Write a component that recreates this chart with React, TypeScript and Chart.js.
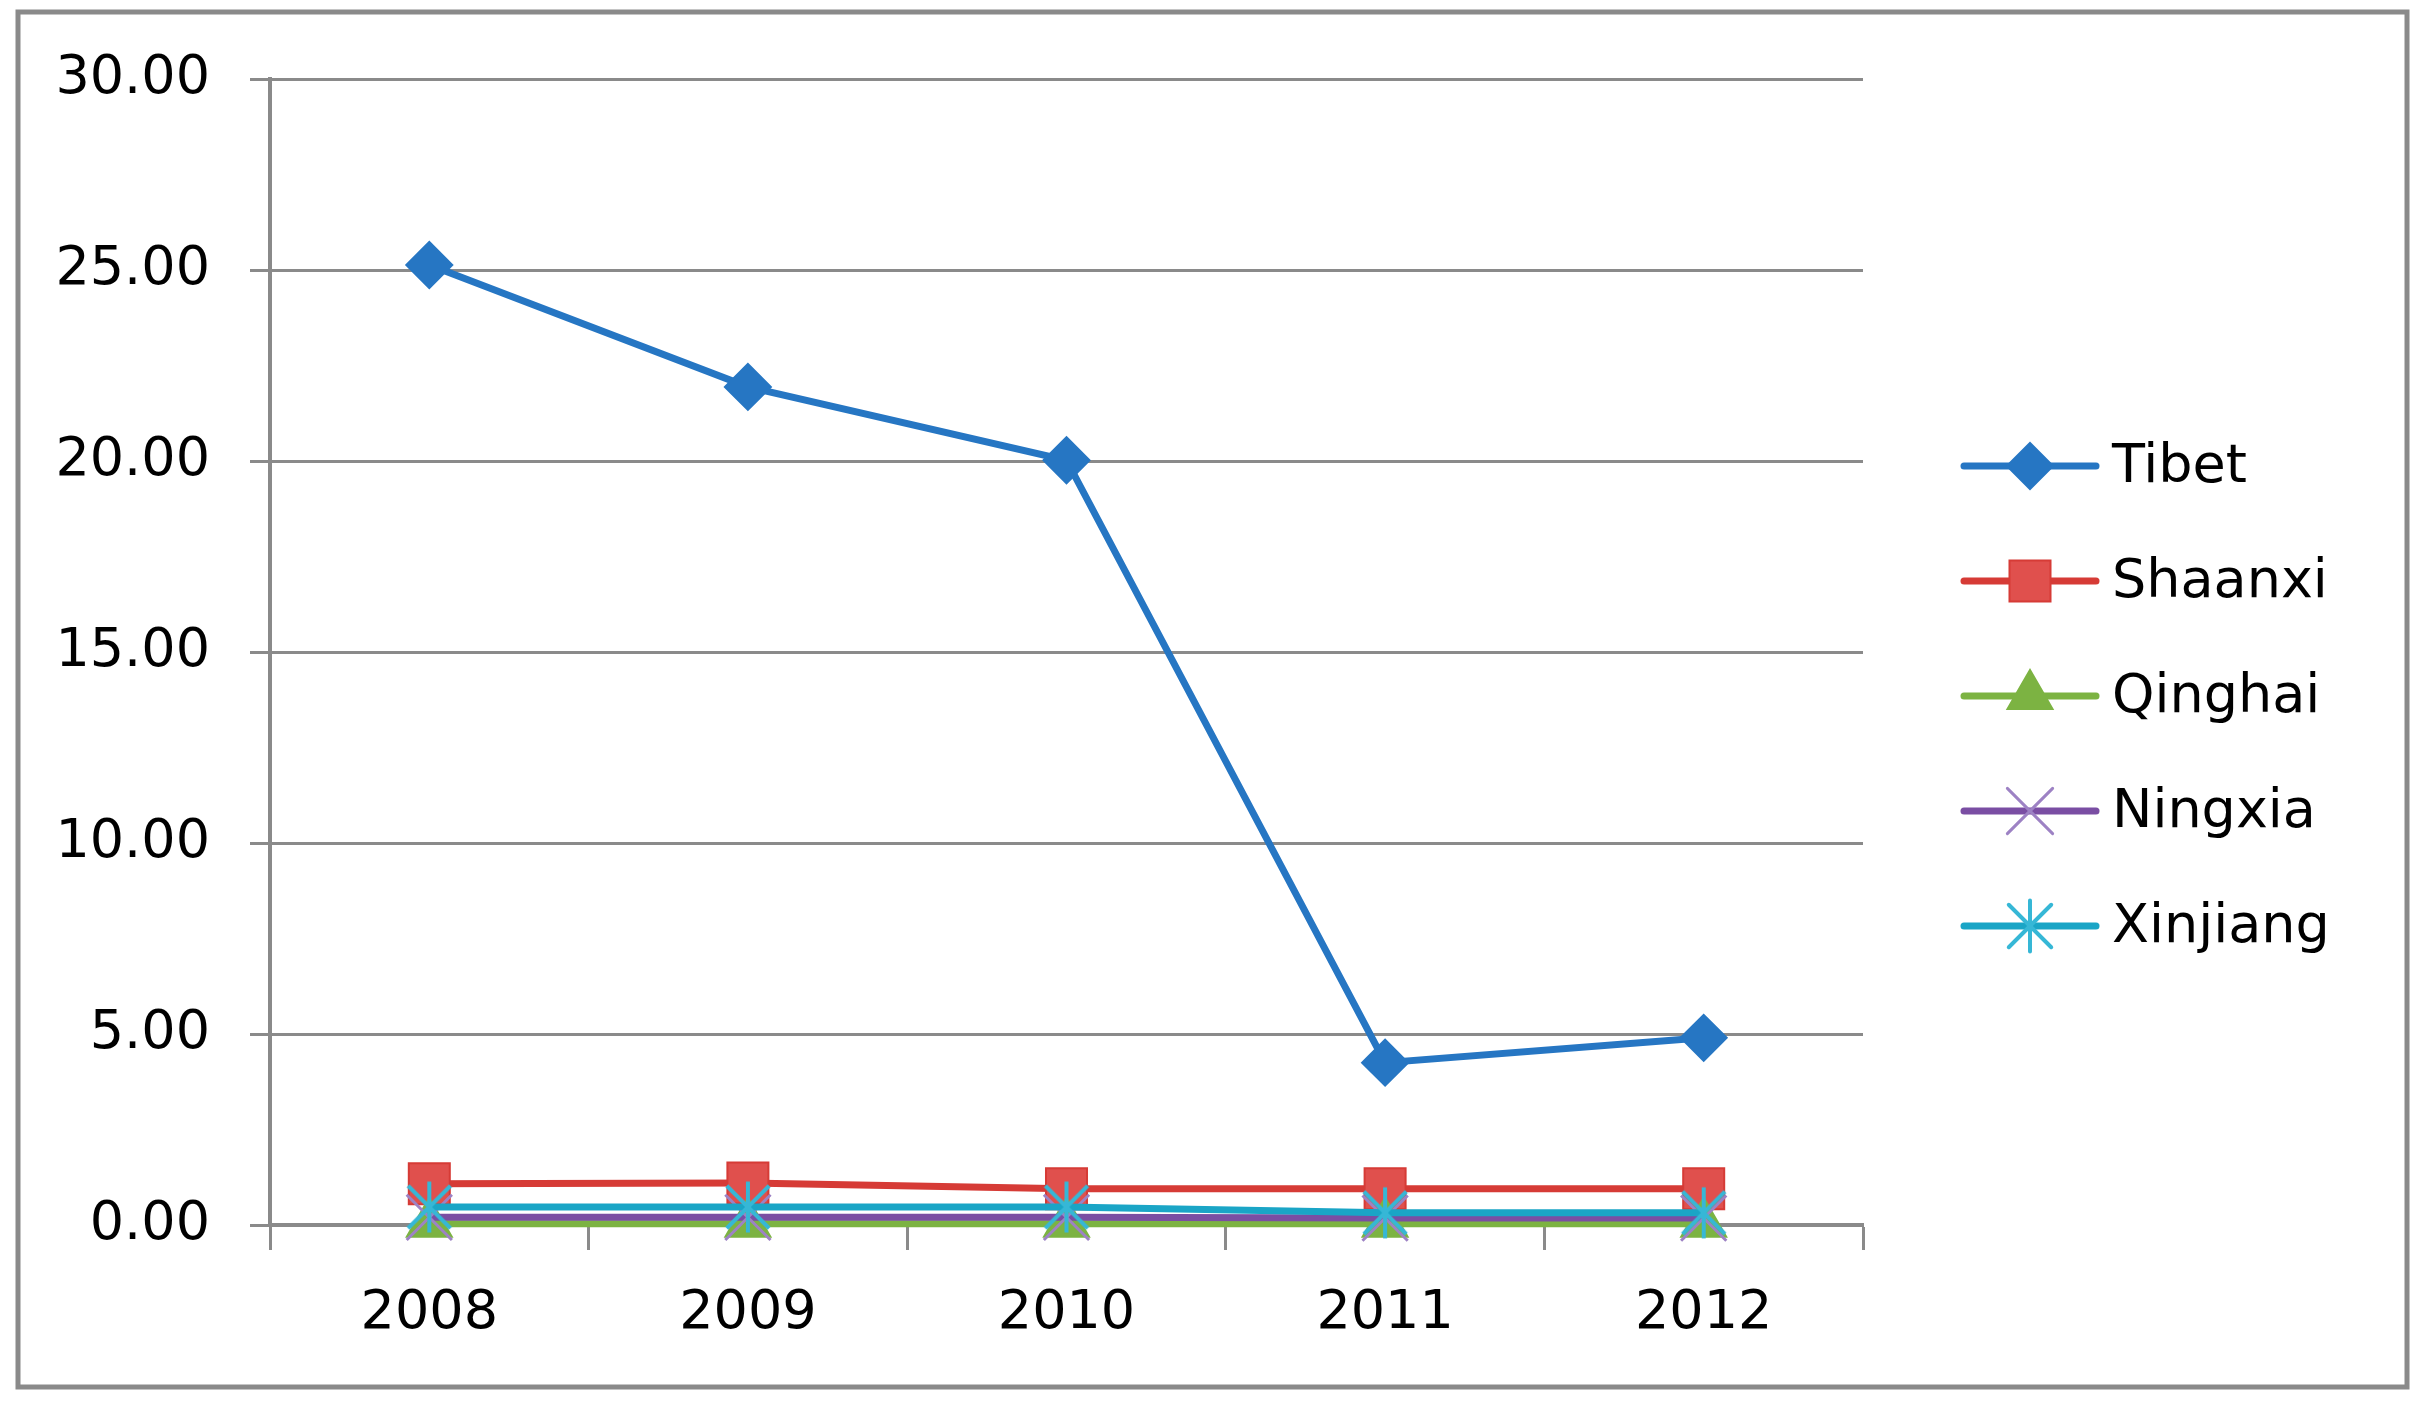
import React, { useEffect, useRef } from "react";
import { Chart, registerables } from "chart.js";

Chart.register(...registerables);

const categories = ["2008", "2009", "2010", "2011", "2012"];
const seriesNames = ["Tibet", "Shaanxi", "Qinghai", "Ningxia", "Xinjiang"];
const tibet = [25.13, 21.94, 20.02, 4.25, 4.9];
const shaanxi = [1.08, 1.1, 0.95, 0.95, 0.95];
const qinghai = [0.03, 0.03, 0.03, 0.03, 0.03];
const ningxia = [0.2, 0.2, 0.2, 0.18, 0.18];
const xinjiang = [0.47, 0.47, 0.47, 0.32, 0.32];
const yTicks = [0, 5, 10, 15, 20, 25, 30];

const FONT = "'DejaVu Sans', sans-serif";
const TEXT = "#000000";
const GRID = "#8a8a8a";

const styles = [
  { line: "#2676c3", fill: "#2676c3", stroke: "#2676c3", shape: "rectRot", r: 23, bw: 2 },
  { line: "#d63b36", fill: "#e0504d", stroke: "#d63b36", shape: "rect", r: 29, bw: 2 },
  { line: "#7cb342", fill: "#7cb342", stroke: "#7cb342", shape: "triangle", r: 26, bw: 2 },
  { line: "#7a4ea3", fill: "#9d82c4", stroke: "#9d82c4", shape: "crossRot", r: 32, bw: 3 },
  { line: "#1aa5c6", fill: "#36b7d6", stroke: "#36b7d6", shape: "asterisk", r: 30, bw: 4 },
];

function drawMarker(ctx: CanvasRenderingContext2D, s: any, x: number, y: number) {
  const r = s.r;
  ctx.save();
  ctx.fillStyle = s.fill;
  ctx.strokeStyle = s.stroke;
  ctx.lineWidth = s.bw;
  ctx.beginPath();
  if (s.shape === "rectRot") {
    ctx.moveTo(x - r, y);
    ctx.lineTo(x, y - r);
    ctx.lineTo(x + r, y);
    ctx.lineTo(x, y + r);
    ctx.closePath();
    ctx.fill();
    ctx.stroke();
  } else if (s.shape === "rect") {
    const h = Math.SQRT1_2 * r;
    ctx.rect(x - h, y - h, 2 * h, 2 * h);
    ctx.fill();
    ctx.stroke();
  } else if (s.shape === "triangle") {
    let a = 0;
    ctx.moveTo(x + Math.sin(a) * r, y - Math.cos(a) * r);
    a += (2 * Math.PI) / 3;
    ctx.lineTo(x + Math.sin(a) * r, y - Math.cos(a) * r);
    a += (2 * Math.PI) / 3;
    ctx.lineTo(x + Math.sin(a) * r, y - Math.cos(a) * r);
    ctx.closePath();
    ctx.fill();
    ctx.stroke();
  } else if (s.shape === "crossRot" || s.shape === "asterisk") {
    const d = Math.SQRT1_2 * r;
    ctx.moveTo(x - d, y - d);
    ctx.lineTo(x + d, y + d);
    ctx.moveTo(x - d, y + d);
    ctx.lineTo(x + d, y - d);
    if (s.shape === "asterisk") {
      ctx.moveTo(x, y - r * 0.85);
      ctx.lineTo(x, y + r * 0.85);
    }
    ctx.stroke();
  }
  ctx.restore();
}

function makeAsterisk(s: any): HTMLCanvasElement {
  const size = Math.ceil(2 * s.r + s.bw * 2);
  const c = document.createElement("canvas");
  c.width = size;
  c.height = size;
  const cx = c.getContext("2d") as CanvasRenderingContext2D;
  drawMarker(cx, s, size / 2, size / 2);
  return c;
}

const framePlugin = {
  id: "frameAndLegend",
  afterDraw(chart: any) {
    const ctx: CanvasRenderingContext2D = chart.ctx;
    ctx.save();
    ctx.strokeStyle = "#8a8a8a";
    ctx.lineWidth = 5;
    ctx.strokeRect(18, 12, 2389, 1375);
    const x0 = 1964;
    const x1 = 2096;
    const yStart = 466;
    const gap = 115;
    ctx.font = `54px ${FONT}`;
    ctx.textBaseline = "middle";
    ctx.textAlign = "left";
    seriesNames.forEach((name, i) => {
      const s = styles[i];
      const y = yStart + i * gap;
      ctx.strokeStyle = s.line;
      ctx.lineWidth = 7;
      ctx.lineCap = "round";
      ctx.beginPath();
      ctx.moveTo(x0, y);
      ctx.lineTo(x1, y);
      ctx.stroke();
      drawMarker(ctx, s, (x0 + x1) / 2, y);
      ctx.fillStyle = TEXT;
      ctx.fillText(name, 2112, y + 2);
    });
    ctx.restore();
  },
};

export default function App() {
  const ref = useRef<HTMLCanvasElement | null>(null);

  useEffect(() => {
    if (!ref.current) return;
    const allData = [tibet, shaanxi, qinghai, ningxia, xinjiang];
    const datasets = seriesNames.map((name, i) => {
      const s = styles[i];
      const ps = s.shape === "asterisk" ? makeAsterisk(s) : s.shape;
      return {
        label: name,
        data: allData[i],
        borderColor: s.line,
        backgroundColor: s.fill,
        borderWidth: 7,
        pointStyle: ps as any,
        pointRadius: s.r,
        pointHoverRadius: s.r,
        pointBackgroundColor: s.fill,
        pointBorderColor: s.stroke,
        pointBorderWidth: s.bw,
        tension: 0,
        order: 4 - i,
        clip: false as any,
      };
    });

    const chart = new Chart(ref.current, {
      type: "line",
      data: { labels: categories, datasets },
      plugins: [framePlugin],
      options: {
        animation: false,
        responsive: false,
        devicePixelRatio: 1,
        layout: { padding: { left: 0, top: 79, right: 558, bottom: 0 } },
        plugins: { legend: { display: false }, tooltip: { enabled: false } },
        scales: {
          x: {
            offset: true,
            grid: {
              offset: true,
              drawOnChartArea: false,
              drawTicks: true,
              tickLength: 25,
              tickWidth: 3,
              tickColor: GRID,
            },
            border: { display: true, color: GRID, width: 4 },
            ticks: {
              color: TEXT,
              font: { family: FONT, size: 54 },
              padding: 32,
              maxRotation: 0,
              autoSkip: false,
            },
            afterFit: (scale: any) => {
              scale.height = 179;
            },
          },
          y: {
            min: 0,
            max: 30,
            afterBuildTicks: (scale: any) => {
              scale.ticks = yTicks.map((v) => ({ value: v }));
            },
            grid: {
              color: GRID,
              lineWidth: 3,
              drawTicks: true,
              tickLength: 20,
              tickWidth: 3,
              tickColor: GRID,
            },
            border: { display: true, color: GRID, width: 4 },
            ticks: {
              color: TEXT,
              font: { family: FONT, size: 54 },
              padding: 40,
              callback: (v: any) => Number(v).toFixed(2),
            },
            afterFit: (scale: any) => {
              scale.width = 270;
            },
          },
        },
      },
    });
    return () => chart.destroy();
  }, []);

  return (
    <div style={{ position: "absolute", left: 0, top: 0, width: 2421, height: 1404, background: "#fff" }}>
      <canvas ref={ref} width={2421} height={1404} style={{ display: "block", width: 2421, height: 1404 }} />
    </div>
  );
}
